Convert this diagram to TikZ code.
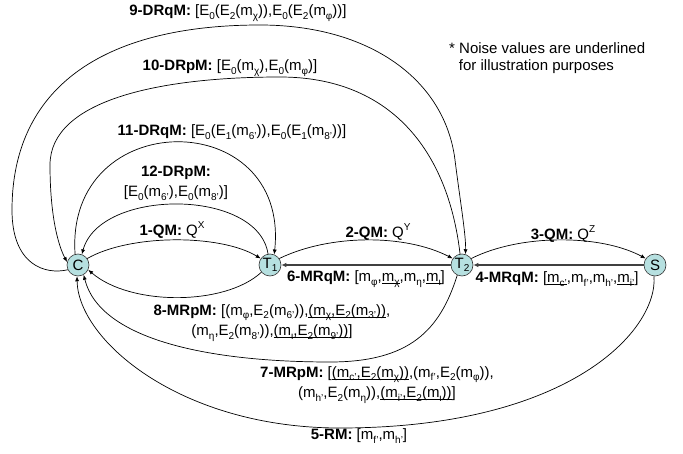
\documentclass[tikz,border=0pt]{standalone}
\usepackage{fontspec}
\setmainfont{Liberation Sans}
\usetikzlibrary{arrows.meta}
\definecolor{nodefill}{HTML}{B6E0E0}
\newcommand\sbs[1]{\raisebox{-0.45ex}{\fontsize{10}{10}\selectfont #1}}
\newcommand\sps[1]{\raisebox{0.85ex}{\fontsize{10}{10}\selectfont #1}}
\newcommand\ul[1]{\begingroup\setbox0\hbox{#1}\rlap{\rule[-1.8pt]{\wd0}{0.6pt}}\box0\endgroup}
\begin{document}
\begin{tikzpicture}[x=1pt,y=-1pt,
  state/.style={circle,draw=black!80,line width=0.6pt,fill=nodefill,minimum size=22pt,inner sep=0pt,font=\fontsize{15}{15}\selectfont},
  lbl/.style={font=\fontsize{15}{20.5}\selectfont,inner sep=0pt,align=center},
  edge/.style={-{Latex[length=5pt,width=4pt]},line width=0.7pt},
  straightedge/.style={-{Latex[length=5pt,width=4.5pt]},line width=1.3pt,draw=black!75}]
\useasboundingbox (0,0) rectangle (683,454);
\node[state] (C) at (78,265) {C};
\node[state] (T1) at (270,265) {T\sbs{1}};
\node[state] (T2) at (462,265) {T\sbs{2}};
\node[state] (S) at (655,265) {S};
% top connectors
\draw[edge] (C.35) .. controls (130,234) and (220,234) .. (T1.145);
\draw[edge] (T1.35) .. controls (330,234) and (405,234) .. (T2.145);
\draw[edge] (T2.35) .. controls (520,234) and (600,234) .. (S.145);
\draw[straightedge] (T2.west) -- (T1.east);
\draw[straightedge] (S.west) -- (T2.east);
\draw[edge] (T1.100) .. controls (258,188) and (100,188) .. (C.70);
\draw[edge] (C.105) .. controls (65,105) and (290,105) .. (T1.68);
\draw[edge] (T2.100) .. controls (448,150) and (390,77) .. (280,77) .. controls (160,77) and (50,100) .. (50,165) .. controls (50,215) and (58,245) .. (C.165);
\draw[edge] (C.205) .. controls (45,275) and (12,265) .. (12,210) .. controls (12,90) and (100,25) .. (260,25) .. controls (370,25) and (445,80) .. (455,160) .. controls (460,200) and (466,235) .. (T2.72);
% bottom connectors
\draw[edge] (T1.-140) .. controls (225,306) and (130,306) .. (C.-25);
\draw[edge] (T2.-115) .. controls (440,330) and (410,362) .. (330,362) .. controls (210,362) and (100,340) .. (C.-60);
\draw[edge] (S.-95) .. controls (658,330) and (570,428) .. (340,428) .. controls (180,428) and (78,340) .. (C.-95);
% labels
\node[lbl] (l9) at (238,13) {\textbf{9-DRqM:} [E\sbs{0}(E\sbs{2}(m\sbs{χ})),E\sbs{0}(E\sbs{2}(m\sbs{φ}))]};
\node[lbl] (l10) at (230,68) {\textbf{10-DRpM:} [E\sbs{0}(m\sbs{χ}),E\sbs{0}(m\sbs{φ})]};
\node[lbl] (l11) at (232,132) {\textbf{11-DRqM:} [E\sbs{0}(E\sbs{1}(m\sbs{6'})),E\sbs{0}(E\sbs{1}(m\sbs{8'}))]};
\node[lbl] (l12) at (176,183) {\textbf{12-DRpM:}\\{}[E\sbs{0}(m\sbs{6'}),E\sbs{0}(m\sbs{8'})]};
\node[lbl] (l1) at (172,230) {\textbf{1-QM:} Q\sps{X}};
\node[lbl] (l2) at (378,232) {\textbf{2-QM:} Q\sps{Y}};
\node[lbl] (l3) at (563,234) {\textbf{3-QM:} Q\sps{Z}};
\node[lbl] (l6) at (366,279) {\textbf{6-MRqM:} [m\sbs{φ},\ul{m\sbs{χ}},m\sbs{η},\ul{m\sbs{ι}}]};
\node[lbl] (l4) at (557,279) {\textbf{4-MRqM:} [\ul{m\sbs{c'}},m\sbs{f'},m\sbs{h'},\ul{m\sbs{i'}}]};
\node[lbl] (l8) at (272,323) {\textbf{8-MRpM:} [(m\sbs{φ},E\sbs{2}(m\sbs{6'})),\ul{(m\sbs{χ},E\sbs{2}(m\sbs{3'}))},\\(m\sbs{η},E\sbs{2}(m\sbs{8'})),\ul{(m\sbs{ι},E\sbs{2}(m\sbs{9'}))}]};
\node[lbl] (l7) at (377,385) {\textbf{7-MRpM:} [\ul{(m\sbs{c'},E\sbs{2}(m\sbs{χ}))},(m\sbs{f'},E\sbs{2}(m\sbs{φ})),\\(m\sbs{h'},E\sbs{2}(m\sbs{η})),\ul{(m\sbs{i'},E\sbs{2}(m\sbs{ι}))}]};
\node[lbl] (l5) at (359,436) {\textbf{5-RM:} [m\sbs{f'},m\sbs{h'}]};
\node[lbl,anchor=west,align=left,font=\fontsize{15}{17}\selectfont] (note) at (449,58) {* Noise values are underlined\\\hspace{0.65em}for illustration purposes};
\end{tikzpicture}
\end{document}
